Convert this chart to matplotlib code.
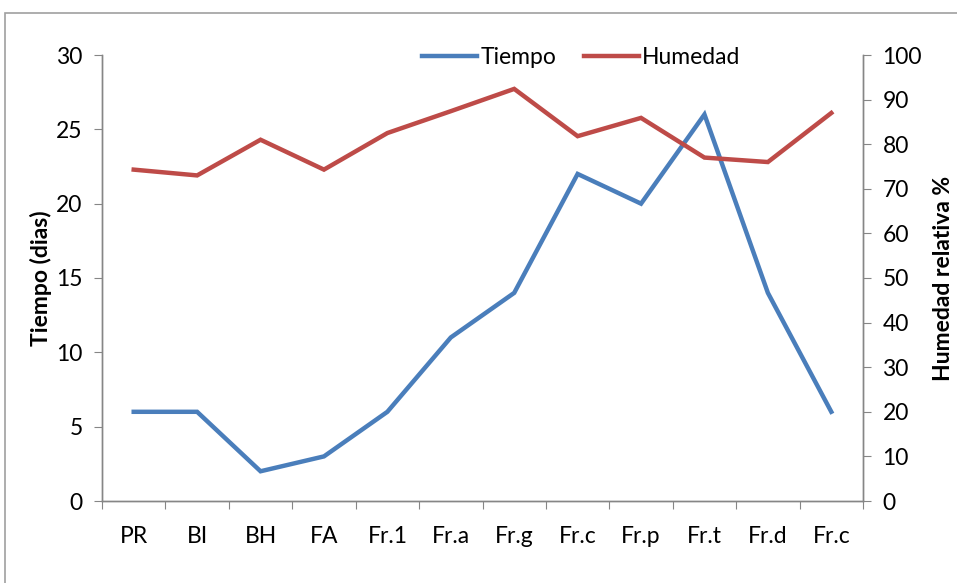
import matplotlib
matplotlib.use("Agg")
import matplotlib.pyplot as plt
from matplotlib.patches import Rectangle

plt.rcParams['font.family'] = ['Lato', 'DejaVu Sans']

categories = ["PR", "BI", "BH", "FA", "Fr.1", "Fr.a", "Fr.g", "Fr.c", "Fr.p", "Fr.t", "Fr.d", "Fr.c"]
tiempo = [6, 6, 2, 3, 6, 11, 14, 22, 20, 26, 14, 6]
humedad = [74.3, 73.0, 81.0, 74.3, 82.5, 87.4, 92.4, 81.8, 85.9, 77.0, 76.0, 87.0]

blue = "#4A7EBB"
red = "#BE4B48"
grey = "#868686"
fs = 16.5

fig = plt.figure(figsize=(9.57, 5.83), dpi=100)
fig.patches.append(Rectangle((5/957, -0.1), 1.2, 1 - 13/583 + 0.1, transform=fig.transFigure,
                             fill=False, edgecolor="#A0A0A0", linewidth=1.2))
ax = fig.add_axes([102/957, 1 - 501/583, (863 - 102)/957, (501 - 55)/583])
ax2 = ax.twinx()

x = list(range(len(categories)))
l1, = ax.plot(x, tiempo, color=blue, lw=3.2, solid_joinstyle="miter", label="Tiempo")
l2, = ax2.plot(x, humedad, color=red, lw=3.2, solid_joinstyle="miter", label="Humedad")

ax.set_xlim(-0.5, len(categories) - 0.5)
ax.set_ylim(0, 30)
ax2.set_ylim(0, 100)
ax.set_yticks(range(0, 31, 5))
ax2.set_yticks(range(0, 101, 10))
ax.set_xticks([i - 0.5 for i in range(len(categories) + 1)])
ax.set_xticklabels([])
ax.set_xticks(x, minor=True)
ax.set_xticklabels(categories, minor=True)
ax.tick_params(axis="x", which="minor", length=0, pad=18, labelsize=fs)
ax.tick_params(axis="x", which="major", length=6, color=grey, direction="out")
ax.tick_params(axis="y", length=6, color=grey, direction="out", labelsize=fs, pad=8)
ax2.tick_params(axis="y", length=6, color=grey, direction="out", labelsize=fs, pad=8)

for a in (ax, ax2):
    a.spines["top"].set_visible(False)
    for s in ("left", "right", "bottom"):
        a.spines[s].set_color(grey)
        a.spines[s].set_linewidth(1.0)

ax.set_ylabel("Tiempo (dias)", fontsize=fs, fontweight="bold", labelpad=3)
ax2.set_ylabel("Humedad relativa %", fontsize=fs, fontweight="bold", rotation=90, labelpad=8)

ax.legend([l1, l2], ["Tiempo", "Humedad"], loc="center", bbox_to_anchor=(0.63, 0.995),
          ncol=2, frameon=False, fontsize=fs, handlelength=2.4, columnspacing=1.2, handletextpad=0.15)

fig.savefig("out.png", dpi=100)
